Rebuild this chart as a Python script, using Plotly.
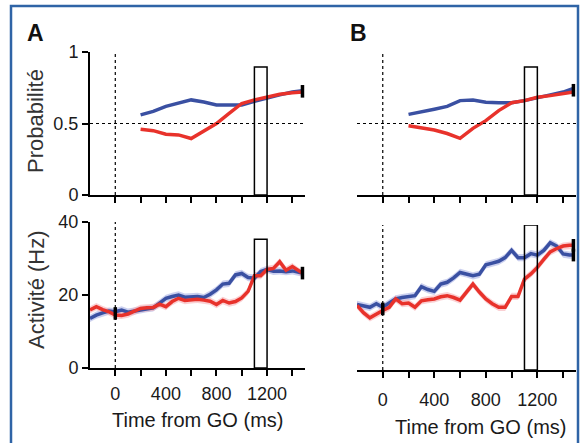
import plotly.graph_objects as go

# ---------------- data ----------------
# Probability (top panels)
prob_t_A = [200, 300, 400, 500, 600, 700, 800, 900, 1000, 1100, 1200, 1300, 1400, 1480]
prob_blue_A = [0.56, 0.585, 0.62, 0.645, 0.665, 0.65, 0.63, 0.63, 0.63, 0.655, 0.68, 0.70, 0.72, 0.73]
prob_red_A = [0.46, 0.45, 0.425, 0.42, 0.395, 0.445, 0.50, 0.57, 0.64, 0.665, 0.685, 0.705, 0.715, 0.72]

prob_t_B = [200, 300, 400, 500, 600, 700, 800, 900, 1000, 1100, 1200, 1300, 1400, 1480]
prob_blue_B = [0.564, 0.585, 0.60, 0.62, 0.66, 0.664, 0.648, 0.645, 0.645, 0.66, 0.683, 0.70, 0.72, 0.745]
prob_red_B = [0.485, 0.468, 0.455, 0.43, 0.396, 0.466, 0.52, 0.59, 0.645, 0.66, 0.683, 0.695, 0.71, 0.72]

# Activity (bottom panels)
act_t = [-200, -150, -100, -50, 0, 50, 100, 150, 200, 250, 300, 350, 400, 450, 500, 550, 600,
         650, 700, 750, 800, 850, 900, 950, 1000, 1050, 1100, 1150, 1200, 1250, 1300, 1350,
         1400, 1450, 1480]
act_red_A = [15.9, 16.8, 16.0, 15.4, 14.5, 14.4, 14.8, 15.5, 16.3, 16.5, 16.6, 17.5, 16.8, 18.2,
             19.1, 18.5, 18.7, 18.8, 18.6, 18.3, 17.4, 18.5, 17.8, 18.2, 19.2, 21.0, 25.3, 25.3,
             27.0, 27.3, 29.1, 26.8, 27.8, 26.5, 26.0]
act_blue_A = [13.6, 14.5, 15.1, 15.6, 15.4, 15.9, 15.3, 15.6, 16.0, 16.3, 16.5, 17.8, 19.1, 19.6,
              20.0, 19.4, 19.5, 19.6, 19.3, 20.2, 21.4, 23.0, 23.2, 25.5, 25.9, 24.8, 24.6, 26.4,
              27.0, 26.5, 26.6, 26.4, 26.6, 26.2, 26.0]
act_red_B = [17.8, 15.8, 14.4, 15.5, 16.4, 17.3, 19.6, 18.3, 18.5, 17.3, 19.1, 19.4, 19.6, 20.2,
             20.5, 20.0, 19.3, 21.5, 23.7, 21.5, 19.6, 18.3, 17.3, 17.3, 20.3, 20.3, 25.1, 26.5,
             28.3, 30.5, 32.6, 33.5, 34.2, 34.4, 34.4]
act_blue_B = [18.1, 17.6, 17.3, 18.3, 17.3, 18.5, 19.6, 20.0, 20.3, 20.5, 23.0, 22.2, 21.7, 23.7,
              24.2, 25.4, 26.9, 26.5, 26.0, 26.4, 29.0, 29.5, 30.0, 31.0, 33.0, 31.0, 31.0, 32.1,
              31.7, 33.0, 35.1, 34.2, 32.0, 31.7, 31.7]
act_sem = 1.0

# analysis window and box heights
window = [1100, 1200]
box_top_prob = 0.895
box_top_act_A = 35.3
box_top_act_B = 40.0

x_ticks = [0, 200, 400, 600, 800, 1000, 1200, 1400]
x_tick_text = ["0", "", "400", "", "800", "", "1200", ""]
prob_ticks = [0, 0.5, 1]
prob_tick_text = ["0", "0.5", "1"]
act_ticks = [0, 20, 40]

BLUE = "#3a50a2"
RED = "#e8322b"
BLUE_BAND = "rgba(160,170,225,0.55)"
RED_BAND = "rgba(245,170,175,0.55)"
FONT = "Liberation Sans, Arial, sans-serif"

W, H = 583, 443
fig = go.Figure()

def px_x(p):
    return p / W

def px_y(p):
    return 1 - p / H

panels = [
    dict(xa="x", ya="y", dom_x=(90, 305), dom_y=(52, 195)),
    dict(xa="x2", ya="y2", dom_x=(357, 576), dom_y=(52, 195)),
    dict(xa="x3", ya="y3", dom_x=(90, 305), dom_y=(222, 368)),
    dict(xa="x4", ya="y4", dom_x=(357, 576), dom_y=(225, 370)),
]

def add_band(t, y, xa, ya, col):
    up = [v + act_sem for v in y]
    lo = [v - act_sem for v in y]
    fig.add_trace(go.Scatter(x=t + t[::-1], y=up + lo[::-1], fill="toself", fillcolor=col,
                             line=dict(width=0), mode="lines", xaxis=xa, yaxis=ya,
                             hoverinfo="skip", showlegend=False))

def add_line(t, y, xa, ya, col, w=3.5):
    fig.add_trace(go.Scatter(x=t, y=y, mode="lines", line=dict(color=col, width=w),
                             xaxis=xa, yaxis=ya, showlegend=False))

def add_mark(x, y, xa, ya):
    fig.add_trace(go.Scatter(x=[x], y=[y], mode="markers", xaxis=xa, yaxis=ya,
                             marker=dict(symbol="line-ns", size=9, line=dict(width=3.5, color="black")),
                             showlegend=False, cliponaxis=False))

add_line(prob_t_A, prob_blue_A, "x", "y", BLUE)
add_line(prob_t_A, prob_red_A, "x", "y", RED)
add_mark(prob_t_A[-1], (prob_blue_A[-1] + prob_red_A[-1]) / 2, "x", "y")
add_line(prob_t_B, prob_blue_B, "x2", "y2", BLUE)
add_line(prob_t_B, prob_red_B, "x2", "y2", RED)
add_mark(prob_t_B[-1], (prob_blue_B[-1] + prob_red_B[-1]) / 2, "x2", "y2")

for (xa, ya, blue, red) in [("x3", "y3", act_blue_A, act_red_A), ("x4", "y4", act_blue_B, act_red_B)]:
    add_band(act_t, blue, xa, ya, BLUE_BAND)
    add_band(act_t, red, xa, ya, RED_BAND)
    add_line(act_t, blue, xa, ya, BLUE)
    add_line(act_t, red, xa, ya, RED)
    i0 = act_t.index(0)
    add_mark(0, (blue[i0] + red[i0]) / 2, xa, ya)
add_mark(act_t[-1], act_red_A[-1], "x3", "y3")
add_mark(act_t[-1], act_blue_B[-1], "x4", "y4")
add_mark(act_t[-1], act_red_B[-1], "x4", "y4")

layout = dict(width=W, height=H,
              margin=dict(l=0, r=0, t=0, b=0, pad=0, autoexpand=False),
              paper_bgcolor="white", plot_bgcolor="rgba(0,0,0,0)",
              font=dict(family=FONT, size=18, color="#1a1a1a"), showlegend=False)

for i, p in enumerate(panels):
    sx = "" if i == 0 else str(i + 1)
    bottom = i >= 2
    left = i in (0, 2)
    layout["xaxis" + sx] = dict(
        domain=[px_x(p["dom_x"][0]), px_x(p["dom_x"][1])], anchor=p["ya"], range=[-200, 1500],
        showgrid=False, zeroline=False, showline=True, linecolor="black", linewidth=2,
        ticks="outside", ticklen=6, tickwidth=1.5, tickcolor="black", automargin=False,
        tickvals=x_ticks, ticktext=x_tick_text if bottom else [""] * len(x_ticks),
        ticklabelstandoff=(2 if i == 2 else 6) if bottom else 0,
        tickfont=dict(size=18))
    ydict = dict(domain=[px_y(p["dom_y"][1]), px_y(p["dom_y"][0])], anchor=p["xa"],
                 range=[0, 1] if not bottom else [0, 40], automargin=False,
                 showgrid=False, zeroline=False, tickfont=dict(size=18))
    if left:
        ydict.update(showline=True, linecolor="black", linewidth=2, ticks="outside",
                     ticklen=6, tickwidth=1.5, tickcolor="black")
        if bottom:
            ydict.update(tickvals=act_ticks)
        else:
            ydict.update(tickvals=prob_ticks, ticktext=prob_tick_text)
    else:
        ydict.update(showline=False, showticklabels=False, ticks="")
    layout["yaxis" + sx] = ydict

shapes = []
for i, p in enumerate(panels):
    xa, ya = p["xa"], p["ya"]
    top = 1 if i < 2 else 40
    shapes.append(dict(type="line", xref=xa, yref=ya, x0=0, x1=0, y0=0, y1=top,
                       line=dict(color="black", width=1.2, dash="dot")))
    if i < 2:
        shapes.append(dict(type="line", xref=xa + " domain", yref=ya, x0=0, x1=1, y0=0.5, y1=0.5,
                           line=dict(color="black", width=1.2, dash="dot")))
    bt = [box_top_prob, box_top_prob, box_top_act_A, box_top_act_B][i]
    shapes.append(dict(type="rect", xref=xa, yref=ya, x0=window[0], x1=window[1], y0=0, y1=bt,
                       line=dict(color="black", width=1.5), fillcolor="rgba(0,0,0,0)"))
shapes.append(dict(type="rect", xref="paper", yref="paper", x0=px_x(11), x1=px_x(578),
                   y0=-0.02, y1=px_y(6), line=dict(color="#2f64a6", width=2.5), layer="below"))
layout["shapes"] = shapes

def ann(text, x, y, size, color, angle=0, bold=False):
    return dict(text=f"<b>{text}</b>" if bold else text, x=px_x(x), y=px_y(y),
                xref="paper", yref="paper", xanchor="center", yanchor="middle",
                showarrow=False, textangle=angle, font=dict(size=size, color=color))

layout["annotations"] = [
    ann("A", 35, 33, 23, "#111", bold=True),
    ann("B", 358, 33, 23, "#111", bold=True),
    ann("Probabilité", 36, 121, 22, "#333", angle=-90),
    ann("Activité (Hz)", 36, 290, 22, "#333", angle=-90),
    ann("Time from GO (ms)", 197, 420, 20, "#1a1a1a"),
    ann("Time from GO (ms)", 481, 427, 20, "#1a1a1a"),
]

fig.update_layout(**layout)
fig.write_html("out.html", config={"displayModeBar": False},
               post_script="document.body.style.margin='0';document.body.style.overflow='hidden';")
